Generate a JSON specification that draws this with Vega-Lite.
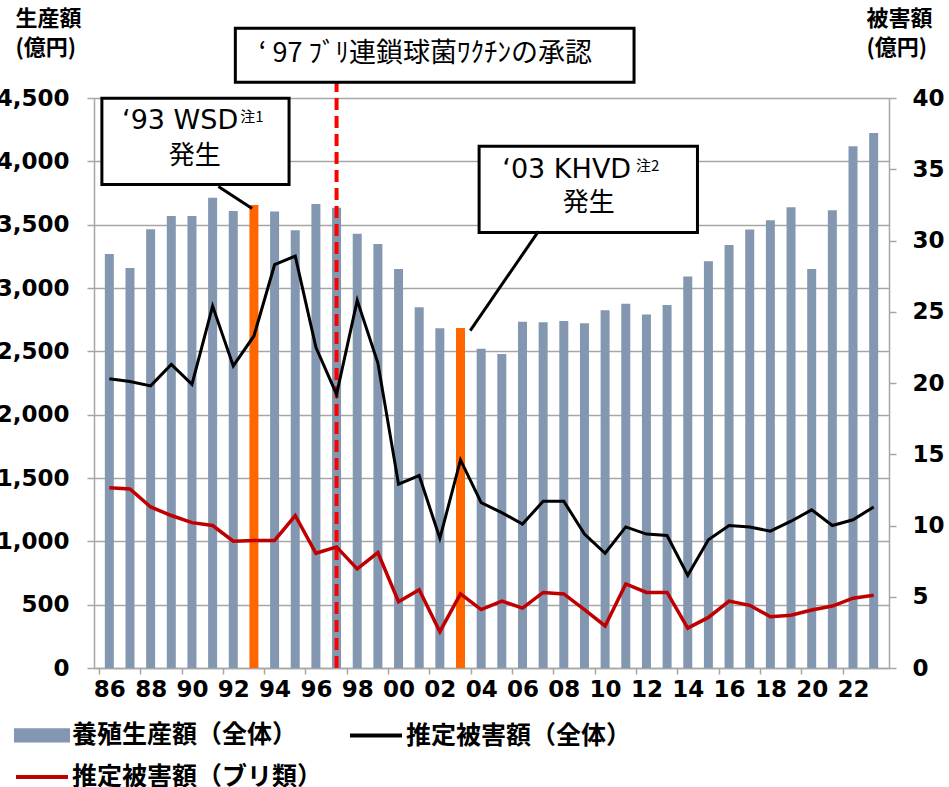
{
  "$schema": "https://vega.github.io/schema/vega-lite/v6.json",
  "width": 795,
  "height": 570,
  "autosize": {"type": "none"},
  "padding": {"left": 94, "top": 98, "right": 60, "bottom": 119},
  "background": "white",
  "config": {"view": {"stroke": null}, "font": "DejaVu Sans"},
  "datasets": {
    "aquaculture": [
      {"year": 1986, "production": 3268, "total": 20.3, "yellowtail": 12.65},
      {"year": 1987, "production": 3158, "total": 20.1, "yellowtail": 12.56},
      {"year": 1988, "production": 3464, "total": 19.8, "yellowtail": 11.3},
      {"year": 1989, "production": 3568, "total": 21.3, "yellowtail": 10.7},
      {"year": 1990, "production": 3568, "total": 19.9, "yellowtail": 10.2},
      {"year": 1991, "production": 3713, "total": 25.4, "yellowtail": 10.0},
      {"year": 1992, "production": 3608, "total": 21.2, "yellowtail": 8.9},
      {"year": 1993, "production": 3655, "total": 23.3, "yellowtail": 8.95},
      {"year": 1994, "production": 3603, "total": 28.3, "yellowtail": 8.95},
      {"year": 1995, "production": 3456, "total": 28.9, "yellowtail": 10.7},
      {"year": 1996, "production": 3663, "total": 22.5, "yellowtail": 8.05},
      {"year": 1997, "production": 3634, "total": 19.2, "yellowtail": 8.5},
      {"year": 1998, "production": 3429, "total": 25.8, "yellowtail": 6.95},
      {"year": 1999, "production": 3347, "total": 21.4, "yellowtail": 8.1},
      {"year": 2000, "production": 3150, "total": 12.9, "yellowtail": 4.65},
      {"year": 2001, "production": 2848, "total": 13.5, "yellowtail": 5.5},
      {"year": 2002, "production": 2682, "total": 9.1, "yellowtail": 2.55},
      {"year": 2003, "production": 2685, "total": 14.6, "yellowtail": 5.2},
      {"year": 2004, "production": 2521, "total": 11.6, "yellowtail": 4.1},
      {"year": 2005, "production": 2479, "total": 10.9, "yellowtail": 4.7},
      {"year": 2006, "production": 2734, "total": 10.1, "yellowtail": 4.2},
      {"year": 2007, "production": 2729, "total": 11.7, "yellowtail": 5.3},
      {"year": 2008, "production": 2740, "total": 11.7, "yellowtail": 5.2},
      {"year": 2009, "production": 2721, "total": 9.4, "yellowtail": 4.1},
      {"year": 2010, "production": 2824, "total": 8.05, "yellowtail": 2.95},
      {"year": 2011, "production": 2876, "total": 9.9, "yellowtail": 5.9},
      {"year": 2012, "production": 2790, "total": 9.4, "yellowtail": 5.3},
      {"year": 2013, "production": 2866, "total": 9.3, "yellowtail": 5.3},
      {"year": 2014, "production": 3090, "total": 6.5, "yellowtail": 2.8},
      {"year": 2015, "production": 3211, "total": 9.0, "yellowtail": 3.55},
      {"year": 2016, "production": 3340, "total": 10.0, "yellowtail": 4.7},
      {"year": 2017, "production": 3461, "total": 9.9, "yellowtail": 4.4},
      {"year": 2018, "production": 3534, "total": 9.6, "yellowtail": 3.6},
      {"year": 2019, "production": 3637, "total": 10.3, "yellowtail": 3.7},
      {"year": 2020, "production": 3150, "total": 11.1, "yellowtail": 4.07},
      {"year": 2021, "production": 3613, "total": 10.0, "yellowtail": 4.35},
      {"year": 2022, "production": 4119, "total": 10.4, "yellowtail": 4.9},
      {"year": 2023, "production": 4224, "total": 11.3, "yellowtail": 5.1}
    ]
  },
  "data": {"name": "aquaculture"},
  "layer": [
    {
      "layer": [
        {
          "mark": {"type": "bar", "width": 9},
          "encoding": {
            "x": {
              "field": "year", "type": "quantitative",
              "scale": {"domain": [1985.5, 2023.5], "nice": false, "zero": false},
              "axis": {
                "values": [1986,1987,1988,1989,1990,1991,1992,1993,1994,1995,1996,1997,1998,1999,2000,2001,2002,2003,2004,2005,2006,2007,2008,2009,2010,2011,2012,2013,2014,2015,2016,2017,2018,2019,2020,2021,2022,2023],
                "labelExpr": "datum.value <= 2022 && datum.value % 2 == 0 ? format(datum.value % 100, '02d') : ''",
                "tickOffset": -10.46, "labelOffset": 10.46,
                "grid": false, "title": null,
                "domainColor": "#A6A6A6", "domainWidth": 1.5,
                "tickColor": "#A6A6A6", "tickWidth": 1.5, "tickSize": 6,
                "labelFont": "DejaVu Sans", "labelFontWeight": "bold", "labelFontSize": 23,
                "labelColor": "black", "labelPadding": 4, "labelOverlap": false, "labelFlush": false
              }
            },
            "y": {
              "field": "production", "type": "quantitative",
              "scale": {"domain": [0, 4500], "nice": false},
              "axis": {
                "values": [0,500,1000,1500,2000,2500,3000,3500,4000,4500],
                "format": ",d",
                "grid": true, "gridColor": "#A6A6A6", "gridWidth": 1.5,
                "domainColor": "#A6A6A6", "domainWidth": 1.5,
                "tickColor": "#A6A6A6", "tickWidth": 1.5, "tickSize": 7,
                "labelFont": "DejaVu Sans", "labelFontWeight": "bold", "labelFontSize": 23,
                "labelColor": "black", "labelPadding": 18,
                "title": ["生産額", "(億円)"],
                "titleFont": "Noto Sans CJK JP", "titleFontWeight": "bold", "titleFontSize": 22,
                "titleColor": "black", "titleAngle": 0, "titleAlign": "left", "titleBaseline": "top",
                "titleX": -79, "titleY": -90, "titleLineHeight": 29
              }
            },
            "color": {
              "datum": "養殖生産額（全体）",
              "condition": {"test": "datum.year === 1993 || datum.year === 2003", "value": "#FF6600"},
              "scale": {
                "domain": ["養殖生産額（全体）", "推定被害額（全体）", "推定被害額（ブリ類）"],
                "range": ["#8497B0", "#000000", "#C00000"]
              },
              "legend": {
                "orient": "none", "legendX": -80, "legendY": 609,
                "direction": "horizontal", "columns": 2, "title": null,
                "labelFont": "Noto Sans CJK JP", "labelFontWeight": "bold", "labelFontSize": 25,
                "labelColor": "black", "labelLimit": 400,
                "columnPadding": 19, "rowPadding": -10, "labelOffset": 2,
                "symbolSize": 2704,
                "encode": {
                  "symbols": {
                    "update": {
                      "shape": {"signal": "datum.value === '養殖生産額（全体）' ? 'M-1,-0.2H1V0.2H-1Z' : 'stroke'"},
                      "size": {"value": 2704},
                      "fill": {"signal": "datum.value === '養殖生産額（全体）' ? '#8497B0' : 'transparent'"},
                      "stroke": {"signal": "datum.value === '養殖生産額（全体）' ? 'transparent' : (datum.value === '推定被害額（全体）' ? '#000000' : '#C00000')"},
                      "strokeWidth": {"value": 4},
                      "opacity": {"value": 1}
                    }
                  }
                }
              }
            }
          }
        },
        {
          "data": {"values": [{}]},
          "mark": {"type": "rule", "color": "#FF0000", "strokeWidth": 4, "strokeDash": [12, 6]},
          "encoding": {"x": {"datum": 1997}, "y": {"datum": 0}, "y2": {"datum": 4624}}
        },
        {
          "data": {"values": [{}]},
          "mark": {"type": "rect", "fill": "white", "stroke": "black", "strokeWidth": 3},
          "encoding": {"x": {"datum": 1992.1}, "x2": {"datum": 2011.4}, "y": {"datum": 5051}, "y2": {"datum": 4624}}
        },
        {
          "data": {"values": [{}]},
          "mark": {"type": "rect", "fill": "white", "stroke": "black", "strokeWidth": 3},
          "encoding": {"x": {"datum": 1985.64}, "x2": {"datum": 1994.7}, "y": {"datum": 4498}, "y2": {"datum": 3818}}
        },
        {
          "data": {"values": [{}]},
          "mark": {"type": "rect", "fill": "white", "stroke": "black", "strokeWidth": 3},
          "encoding": {"x": {"datum": 2003.9}, "x2": {"datum": 2014.47}, "y": {"datum": 4119}, "y2": {"datum": 3439}}
        },
        {
          "data": {"values": [{}]},
          "mark": {"type": "rule", "color": "black", "strokeWidth": 3},
          "encoding": {"x": {"datum": 1991.28}, "x2": {"datum": 1992.91}, "y": {"datum": 3802}, "y2": {"datum": 3628}}
        },
        {
          "data": {"values": [{}]},
          "mark": {"type": "rule", "color": "black", "strokeWidth": 3},
          "encoding": {"x": {"datum": 2006.77}, "x2": {"datum": 2003.47}, "y": {"datum": 3447}, "y2": {"datum": 2664}}
        },
        {
          "data": {"values": [{}]},
          "mark": {"type": "text", "text": "‘ 97 ﾌﾞﾘ連鎖球菌ﾜｸﾁﾝの承認", "font": "Noto Sans CJK JP", "fontSize": 27, "align": "center", "baseline": "middle", "color": "black"},
          "encoding": {"x": {"datum": 2001.3}, "y": {"datum": 4846}}
        },
        {
          "data": {"values": [{}]},
          "mark": {"type": "text", "text": "‘93 WSD", "font": "DejaVu Sans", "fontSize": 27, "align": "right", "baseline": "middle", "color": "black"},
          "encoding": {"x": {"datum": 1992.24}, "y": {"datum": 4316}}
        },
        {
          "data": {"values": [{}]},
          "mark": {"type": "text", "text": "注1", "font": "Noto Sans CJK JP", "fontSize": 15, "align": "left", "baseline": "middle", "color": "black"},
          "encoding": {"x": {"datum": 1992.34}, "y": {"datum": 4348}}
        },
        {
          "data": {"values": [{}]},
          "mark": {"type": "text", "text": "発生", "font": "Noto Sans CJK JP", "fontSize": 26, "align": "center", "baseline": "middle", "color": "black"},
          "encoding": {"x": {"datum": 1990.14}, "y": {"datum": 4040}}
        },
        {
          "data": {"values": [{}]},
          "mark": {"type": "text", "text": "‘03 KHVD", "font": "DejaVu Sans", "fontSize": 27, "align": "right", "baseline": "middle", "color": "black"},
          "encoding": {"x": {"datum": 2011.26}, "y": {"datum": 3928}}
        },
        {
          "data": {"values": [{}]},
          "mark": {"type": "text", "text": "注2", "font": "Noto Sans CJK JP", "fontSize": 15, "align": "left", "baseline": "middle", "color": "black"},
          "encoding": {"x": {"datum": 2011.5}, "y": {"datum": 3960}}
        },
        {
          "data": {"values": [{}]},
          "mark": {"type": "text", "text": "発生", "font": "Noto Sans CJK JP", "fontSize": 26, "align": "center", "baseline": "middle", "color": "black"},
          "encoding": {"x": {"datum": 2009.21}, "y": {"datum": 3668}}
        }
      ]
    },
    {
      "layer": [
        {
          "mark": {"type": "line", "strokeWidth": 3.5},
          "encoding": {
            "x": {"field": "year", "type": "quantitative"},
            "y": {
              "field": "yellowtail", "type": "quantitative",
              "scale": {"domain": [0, 40], "nice": false},
              "axis": {
                "orient": "right",
                "values": [0,5,10,15,20,25,30,35,40],
                "grid": false,
                "domainColor": "#A6A6A6", "domainWidth": 1.5,
                "tickColor": "#A6A6A6", "tickWidth": 1.5, "tickSize": 7,
                "labelFont": "DejaVu Sans", "labelFontWeight": "bold", "labelFontSize": 23,
                "labelColor": "black", "labelPadding": 16,
                "title": ["被害額", "(億円)"],
                "titleFont": "Noto Sans CJK JP", "titleFontWeight": "bold", "titleFontSize": 22,
                "titleColor": "black", "titleAngle": 0, "titleAlign": "left", "titleBaseline": "top",
                "titleX": -23, "titleY": -90, "titleLineHeight": 29
              }
            },
            "color": {"datum": "推定被害額（ブリ類）"}
          }
        },
        {
          "mark": {"type": "line", "strokeWidth": 3},
          "encoding": {
            "x": {"field": "year", "type": "quantitative"},
            "y": {"field": "total", "type": "quantitative"},
            "color": {"datum": "推定被害額（全体）"}
          }
        }
      ]
    }
  ],
  "resolve": {"scale": {"y": "independent"}}
}
